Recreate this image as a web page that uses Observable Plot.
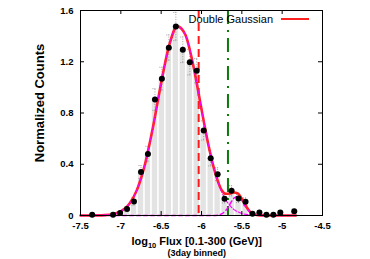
<!DOCTYPE html>
<html><head><meta charset="utf-8">
<script src="https://cdn.jsdelivr.net/npm/d3@7"></script>
<script src="https://cdn.jsdelivr.net/npm/@observablehq/plot@0.6"></script>
<style>
body{margin:0;background:#fff;}
#chart svg{display:block;}
</style></head><body><div id="chart"></div>
<script>
// Binned data (bin centres, normalized counts, errors)
const binCenters = [-7.355,-7.096,-7.009,-6.923,-6.837,-6.750,-6.664,-6.577,-6.491,-6.405,-6.318,-6.232,-6.145,-6.059,-5.973,-5.886,-5.800,-5.714,-5.627,-5.541,-5.454,-5.368,-5.282,-5.195,-5.109,-5.023,-4.850];
const counts = [0.005,0.005,0.02,0.05,0.11,0.34,0.48,0.905,1.067,1.309,1.475,1.293,1.197,1.13,0.664,0.447,0.322,0.13,0.193,0.133,0.107,0.013,0.023,0.005,0.005,0.023,0.034];
const errors = [0.005,0.005,0.012,0.02,0.03,0.05,0.06,0.085,0.09,0.1,0.11,0.1,0.1,0.095,0.075,0.06,0.05,0.032,0.04,0.032,0.03,0.01,0.012,0.005,0.005,0.012,0.015];
const binWidth = 0.0864;

// Fit curves
const curveX = [-7.5,-7.4,-7.3,-7.2,-7.1,-7.0,-6.9,-6.8,-6.7,-6.6,-6.5,-6.4,-6.3,-6.2,-6.1,-6.0,-5.95,-5.9,-5.85,-5.8,-5.75,-5.7,-5.65,-5.6,-5.55,-5.5,-5.45,-5.4,-5.35,-5.3,-5.25,-5.2,-5.1,-5.0,-4.9,-4.83];
const fitTotal = [0,0.0001,0.0007,0.0028,0.0103,0.032,0.086,0.200,0.401,0.694,1.035,1.330,1.476,1.411,1.165,0.829,0.662,0.509,0.377,0.272,0.197,0.170,0.172,0.180,0.172,0.130,0.074,0.030,0.0096,0.0026,0.0008,0.0002,0,0,0,0];
const compMain = [0,0.0001,0.0007,0.0028,0.0103,0.032,0.086,0.200,0.401,0.694,1.035,1.330,1.476,1.411,1.165,0.829,0.662,0.509,0.377,0.269,0.185,0.123,0.0786,0.048,0.0287,0.016,0.0091,0.0048,0.0025,0.0012,0.0006,0.0002,0,0,0,0];
const compSecond = [0,0,0,0,0,0,0,0,0,0,0,0,0,0,0,0,0,0.0001,0.0004,0.0028,0.0123,0.0387,0.0856,0.134,0.149,0.117,0.065,0.0255,0.0071,0.0014,0.0002,0,0,0,0,0];

// Vertical markers
const markerRed = -6.035;
const markerGreen = -5.672;

const xTicks = [-7.5,-7,-6.5,-6,-5.5,-5,-4.5];
const yTicks = [0,0.4,0.8,1.2,1.6];
const legendLabel = "Double Gaussian";
const yTitle = "Normalized Counts";
const xTitleSub = "10";
const xTitleRest = " Flux [0.1-300 (GeV)]";
const xSubtitle = "(3day binned)";

const points = binCenters.map((x,i)=>({x, y:counts[i], e:errors[i]}));
const curves = curveX.map((x,i)=>({x, total:fitTotal[i], main:compMain[i], second:compSecond[i]}));

const font = "'Liberation Sans', Arial, Helvetica, sans-serif";
const svg = Plot.plot({
  width:370, height:259,
  marginLeft:80, marginRight:48, marginTop:10, marginBottom:44,
  x:{domain:[-7.5,-4.5]},
  y:{domain:[0,1.6]},
  style:{fontFamily:font, background:"white", color:"black"},
  marks:[
    Plot.rectY(points, {x1:d=>d.x-binWidth/2, x2:d=>d.x+binWidth/2, y:"y", fill:"#e3e3e3", insetLeft:0.8, insetRight:0.8}),
    Plot.ruleX(points, {x:"x", y1:d=>Math.max(0,d.y-d.e), y2:d=>d.y+d.e, stroke:"#888", strokeWidth:0.8, strokeDasharray:"1,1.5"}),
    Plot.ruleY(points, {y:d=>d.y+d.e, x1:d=>d.x-0.025, x2:d=>d.x+0.025, stroke:"#888", strokeWidth:0.8, strokeDasharray:"1,1"}),
    Plot.ruleY(points, {y:d=>Math.max(0,d.y-d.e), x1:d=>d.x-0.025, x2:d=>d.x+0.025, stroke:"#888", strokeWidth:0.8, strokeDasharray:"1,1"}),
    Plot.ruleX([markerRed], {x:d=>d, stroke:"#ff1a1a", strokeWidth:2, strokeDasharray:"8,5"}),
    Plot.ruleX([markerGreen], {x:d=>d, stroke:"#0a7a0a", strokeWidth:2, strokeDasharray:"14,6,2,6"}),
    Plot.line(curves, {x:"x", y:"total", stroke:"#ff2020", strokeWidth:2.6, curve:"monotone-x"}),
    Plot.line(curves, {x:"x", y:"main", stroke:"#ff00ff", strokeWidth:1.1, strokeDasharray:"4,2", curve:"monotone-x"}),
    Plot.line(curves, {x:"x", y:"second", stroke:"#ff00ff", strokeWidth:1.5, strokeDasharray:"4,3", curve:"monotone-x"}),
    Plot.dot(points, {x:"x", y:"y", r:3, fill:"black", stroke:"none"}),
    Plot.frame({stroke:"black", strokeWidth:1}),
    Plot.tickX(xTicks, {x:d=>d, insetTop:201, stroke:"black"}),
    Plot.tickX(xTicks, {x:d=>d, insetBottom:201, stroke:"black"}),
    Plot.tickY(yTicks, {y:d=>d, insetRight:238, stroke:"black"}),
    Plot.tickY(yTicks, {y:d=>d, insetLeft:238, stroke:"black"}),
    Plot.axisX({ticks:xTicks, tickSize:0, tickPadding:7, tickFormat:d=>String(d), fontWeight:"bold", fontSize:9.5, label:null}),
    Plot.axisY({ticks:yTicks, tickSize:0, tickPadding:7, tickFormat:d=>String(d), fontWeight:"bold", fontSize:9.5, label:null})
  ]
});

const s = d3.select(svg);
s.append("text")
  .attr("transform","translate(39,103) rotate(-90)")
  .attr("text-anchor","middle").attr("dominant-baseline","central")
  .attr("font-family",font).attr("font-weight","bold").attr("font-size",13)
  .attr("fill","black").text(yTitle);
const xt = s.append("text")
  .attr("x",196.7).attr("y",245)
  .attr("text-anchor","middle")
  .attr("font-family",font).attr("font-weight","bold").attr("font-size",11)
  .attr("fill","black");
xt.append("tspan").text("log");
xt.append("tspan").attr("font-size",7.5).attr("dy",3).text(xTitleSub);
xt.append("tspan").attr("dy",-3).text(xTitleRest);
s.append("text")
  .attr("x",196.7).attr("y",255.5)
  .attr("text-anchor","middle")
  .attr("font-family",font).attr("font-weight","bold").attr("font-size",9)
  .attr("fill","black").text(xSubtitle);
s.append("text")
  .attr("x",273).attr("y",23)
  .attr("text-anchor","end")
  .attr("font-family",font).attr("font-size",11)
  .attr("fill","black").text(legendLabel);
s.append("line")
  .attr("x1",281).attr("x2",309).attr("y1",19).attr("y2",19)
  .attr("stroke","#ff2020").attr("stroke-width",2);

document.getElementById("chart").appendChild(svg);
</script></body></html>
